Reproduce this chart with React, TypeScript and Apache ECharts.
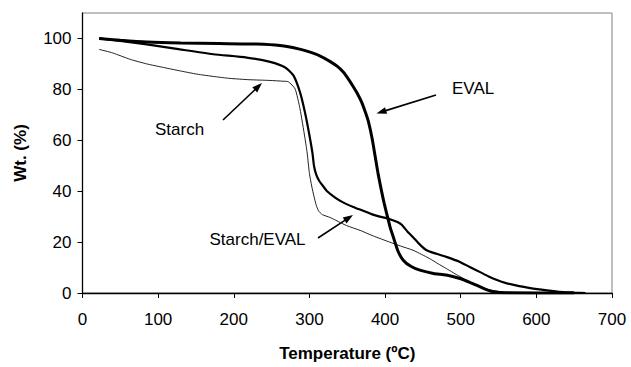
import React, { useEffect, useRef } from "react";
import * as echarts from "echarts";

const evalTemp = [22, 50, 85, 130, 180, 230, 261, 287, 301, 315, 327, 337, 345, 352, 358, 364, 369, 374, 378, 383, 387, 391, 395, 399, 404, 407, 411, 417, 424, 434, 446, 464, 481, 499, 512, 525, 535, 543, 560, 650];
const evalWt = [100, 99.3, 98.6, 98.2, 98, 97.8, 97.2, 95.8, 94.6, 93, 91, 89, 86.7, 83.8, 81, 78, 75, 71, 67.3, 60.5, 53.5, 46.5, 40.5, 35, 29, 25.5, 21.9, 16.5, 12.9, 10.5, 9, 7.7, 7.1, 5.7, 4.2, 2.5, 1.2, 0.5, 0.1, 0];

const blendTemp = [22, 50, 85, 129, 173, 217, 248, 268, 279, 287.5, 294, 300, 304, 306, 309, 313, 318, 323, 334, 345, 358, 371, 382, 393, 402, 410, 417, 422, 430, 437, 446, 455, 468, 481, 499, 512, 525, 537, 548, 560, 570, 592, 614, 630, 650, 665];
const blendWt = [100, 99, 97.7, 95.7, 93.8, 92.5, 90.8, 88.6, 85.4, 78.9, 71.1, 62, 55, 50, 46.5, 44, 42, 40.1, 37.5, 35.5, 33.8, 32.3, 31, 30, 29.4, 28.6, 27.8, 26.8, 24, 21.9, 19, 16.8, 15.4, 14.2, 12.2, 10.2, 8.3, 6.5, 5.1, 3.9, 3.2, 1.9, 1.0, 0.5, 0.2, 0];

const starchTemp = [22, 40, 63, 85, 107, 130, 151, 175, 195, 220, 248, 265, 272, 281, 287.5, 294, 297, 300, 303, 306, 309, 312, 317, 327, 349, 367, 384.5, 406, 420, 437, 448, 459, 470, 481, 490, 495, 503, 515, 525, 535, 543, 555, 580, 620];
const starchWt = [95.7, 94.3, 91.8, 90, 88.6, 87.2, 86, 85, 84.3, 83.8, 83.5, 83.2, 83, 80.2, 72.4, 61, 55, 47, 42, 38, 34.5, 32.3, 30.8, 29.7, 26.5, 24.6, 22.4, 20, 18.5, 16.8, 15.2, 13.5, 11.5, 9.6, 8, 7.1, 5.8, 3.8, 2.5, 1.5, 1, 0.4, 0.1, 0];

const xTicks = [0, 100, 200, 300, 400, 500, 600, 700];
const yTicks = [0, 20, 40, 60, 80, 100];

const xTitle = "Temperature (ºC)";
const yTitle = "Wt. (%)";

const zip = (xs: number[], ys: number[]) => xs.map((x, i) => [x, ys[i]]);

const FONT = "Liberation Sans, Arial, sans-serif";

function arrow(tail: [number, number], tip: [number, number]) {
  const dx = tip[0] - tail[0];
  const dy = tip[1] - tail[1];
  const len = Math.sqrt(dx * dx + dy * dy);
  const ux = dx / len;
  const uy = dy / len;
  const hl = 10;
  const hw = 3.5;
  const bx = tip[0] - ux * hl;
  const by = tip[1] - uy * hl;
  return [
    {
      type: "line",
      shape: { x1: tail[0], y1: tail[1], x2: bx + ux * 2, y2: by + uy * 2 },
      style: { stroke: "#000", lineWidth: 1.6 },
      silent: true,
    },
    {
      type: "polygon",
      shape: {
        points: [
          [tip[0], tip[1]],
          [bx - uy * hw, by + ux * hw],
          [bx + uy * hw, by - ux * hw],
        ],
      },
      style: { fill: "#000" },
      silent: true,
    },
  ];
}

export default function App() {
  const ref = useRef<HTMLDivElement>(null);
  useEffect(() => {
    if (!ref.current) return;
    const chart = echarts.init(ref.current, undefined, { renderer: "svg" });
    const label = (text: string, x: number, y: number) => ({
      type: "text",
      x,
      y,
      style: { text, fill: "#000", font: `17px ${FONT}`, textAlign: "left", textVerticalAlign: "middle" },
      silent: true,
    });
    chart.setOption({
      animation: false,
      backgroundColor: "#fff",
      grid: { left: 82.5, right: 19, top: 13, bottom: 70.5, show: true, borderColor: "#808080", borderWidth: 1 },
      xAxis: {
        type: "value",
        min: 0,
        max: 700,
        interval: 100,
        name: xTitle,
        nameLocation: "middle",
        nameGap: 52,
        nameTextStyle: { fontFamily: FONT, fontSize: 17, fontWeight: "bold", color: "#000" },
        axisLine: { show: true, onZero: false, lineStyle: { color: "#000", width: 1.3 } },
        axisTick: { show: true, inside: false, length: 5, lineStyle: { color: "#000" } },
        axisLabel: { fontFamily: FONT, fontSize: 17, color: "#000", margin: 18, customValues: xTicks },
        splitLine: { show: false },
      },
      yAxis: {
        type: "value",
        min: 0,
        max: 110,
        interval: 20,
        name: yTitle,
        nameLocation: "middle",
        nameGap: 54,
        nameRotate: 90,
        nameTextStyle: { fontFamily: FONT, fontSize: 17, fontWeight: "bold", color: "#000" },
        axisLine: { show: true, onZero: false, lineStyle: { color: "#000", width: 1.3 } },
        axisTick: { show: true, inside: false, length: 5, lineStyle: { color: "#000" }, customValues: yTicks },
        axisLabel: { fontFamily: FONT, fontSize: 17, color: "#000", margin: 11, customValues: yTicks },
        splitLine: { show: false },
      },
      series: [
        {
          name: "Starch",
          type: "line",
          data: zip(starchTemp, starchWt),
          showSymbol: false,
          smooth: 0.2,
          lineStyle: { color: "#222", width: 1 },
          z: 3,
        },
        {
          name: "Starch/EVAL",
          type: "line",
          data: zip(blendTemp, blendWt),
          showSymbol: false,
          smooth: 0.2,
          lineStyle: { color: "#000", width: 2.2 },
          z: 4,
        },
        {
          name: "EVAL",
          type: "line",
          data: zip(evalTemp, evalWt),
          showSymbol: false,
          smooth: 0.2,
          lineStyle: { color: "#000", width: 3 },
          z: 5,
        },
      ],
      graphic: [
        label("EVAL", 452, 88.5),
        label("Starch", 155, 129.5),
        label("Starch/EVAL", 209.5, 239.5),
        ...arrow([436, 95], [376.5, 113.5]),
        ...arrow([223, 120], [262, 83]),
        ...arrow([318, 238], [353, 215]),
      ],
    });
    return () => chart.dispose();
  }, []);
  return (
    <div
      ref={ref}
      style={{ position: "absolute", left: 0, top: 0, width: 631, height: 367 }}
    />
  );
}
